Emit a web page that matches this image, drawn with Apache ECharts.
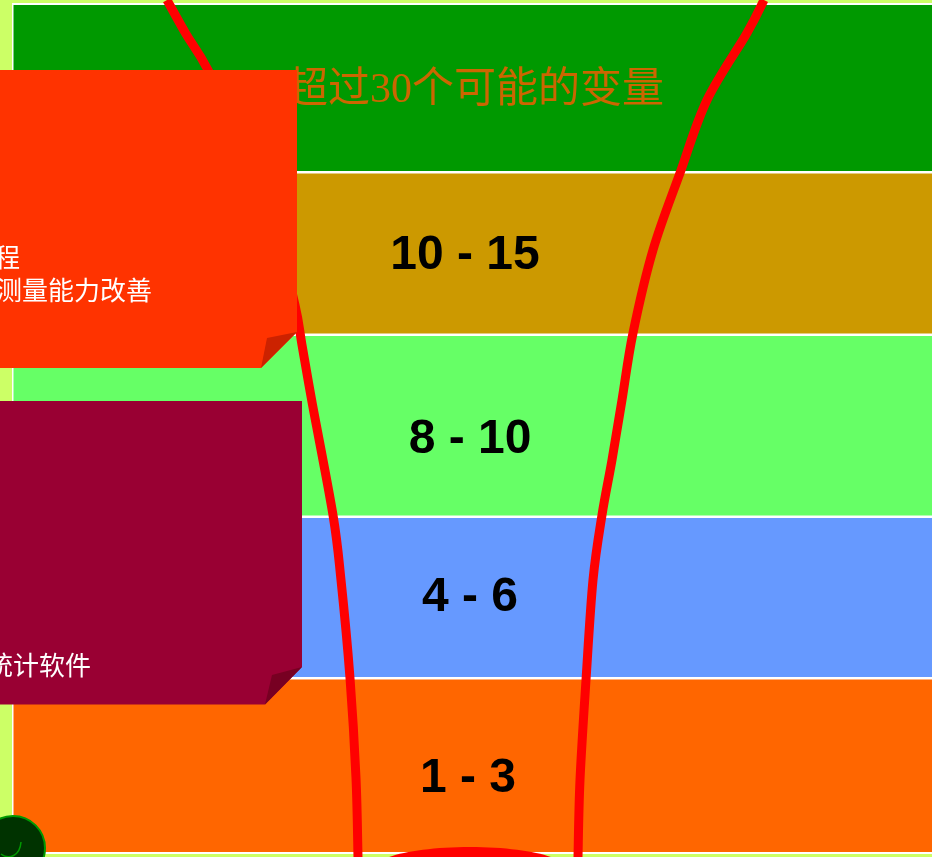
<!DOCTYPE html>
<html>
<head>
<meta charset="utf-8">
<script src="https://cdn.jsdelivr.net/npm/echarts@6/dist/echarts.min.js"></script>
<style>
    html, body { margin: 0; padding: 0; background: #CCFF66; }
    #chart { width: 932px; height: 857px; }
</style>
</head>
<body>
<div id="chart"></div>
<script>
    // band layout (page pixels, y grows downward)
    var bandLabels = ['超过30个可能的变量', '10 - 15', '8 - 10', '4 - 6', '1 - 3'];
    var bandTop = [5, 173.5, 336, 518, 679.5];
    var bandBottom = [171, 333.5, 515.5, 677, 852];
    var labelX = [475, 465, 470, 470, 468];
    var labelY = [91, 256, 440, 598, 779];

    // the two red funnel curves
    var leftCurve = [[167, 0], [186, 34], [208, 70], [245, 150], [275, 230], [295, 305], [302, 345],
        [312, 402], [333, 515], [341, 580], [350, 678], [356, 778], [358, 857]];
    var rightCurve = [[764, 0], [747, 33], [707, 100], [680, 173], [653, 250], [633, 333],
        [622, 400], [612, 460], [602, 515], [593, 580], [586, 680], [580, 780], [578, 857]];
    var curves = [leftCurve, rightCurve];

    // callout notes on the left
    var noteShapes = [
        [[-5, 70], [297, 70], [297, 332], [261, 368], [-5, 368]],
        [[-5, 401], [302, 401], [302, 667], [265, 704.5], [-5, 704.5]]
    ];
    var noteFolds = [
        [[297, 332], [267, 338], [261, 368]],
        [[302, 667], [272, 675], [265, 704.5]]
    ];
    var noteLines = ['程', '测量能力改善', '统计软件'];
    var noteLineX = [20, 152, 91];
    var noteLineY = [257, 290, 665];

    var bandColors = ['#009900', '#CC9900', '#66FF66', '#6699FF', '#FF6600'];
    var noteColors = ['#FF3300', '#990033'];
    var foldColors = ['#CC2200', '#770022'];

    var chart = echarts.init(document.getElementById('chart'))

    function poly(pts, api) {
        return pts.map(function (p) { return api.coord(p) })
    }

    // catmull-rom through the pixel points, as cubic bezier path data
    function splinePath(pts) {
        var d = 'M' + pts[0][0] + ',' + pts[0][1]
        for (var i = 0; i < pts.length - 1; i++) {
            var p0 = pts[Math.max(i - 1, 0)], p1 = pts[i], p2 = pts[i + 1], p3 = pts[Math.min(i + 2, pts.length - 1)]
            var c1x = p1[0] + (p2[0] - p0[0]) / 6, c1y = p1[1] + (p2[1] - p0[1]) / 6
            var c2x = p2[0] - (p3[0] - p1[0]) / 6, c2y = p2[1] - (p3[1] - p1[1]) / 6
            d += 'C' + c1x + ',' + c1y + ',' + c2x + ',' + c2y + ',' + p2[0] + ',' + p2[1]
        }
        return d
    }

    chart.setOption({
        animation: false,
        grid: {left: 0, right: 0, top: 0, bottom: 0},
        xAxis: {type: 'value', min: 0, max: 932, show: false},
        yAxis: {type: 'value', min: 0, max: 857, inverse: true, show: false},
        series: [
            { // white frame behind the bands
                type: 'custom',
                silent: true,
                z: 1,
                data: [[12, 3, 940, 854]],
                renderItem: function (params, api) {
                    var a = api.coord([api.value(0), api.value(1)])
                    var b = api.coord([api.value(2), api.value(3)])
                    return {type: 'rect', shape: {x: a[0], y: a[1], width: b[0] - a[0], height: b[1] - a[1]}, style: {fill: '#ffffff'}}
                }
            },
            {
                type: 'custom',
                silent: true,
                z: 2,
                data: bandTop.map(function (t, i) { return [13.5, t, 940, bandBottom[i]] }),
                renderItem: function (params, api) {
                    var a = api.coord([api.value(0), api.value(1)])
                    var b = api.coord([api.value(2), api.value(3)])
                    return {
                        type: 'rect',
                        shape: {x: a[0], y: a[1], width: b[0] - a[0], height: b[1] - a[1]},
                        style: {fill: bandColors[params.dataIndex]}
                    }
                }
            },
            {
                type: 'custom',
                silent: true,
                z: 3,
                data: labelX.map(function (x, i) { return [x, labelY[i]] }),
                renderItem: function (params, api) {
                    var p = api.coord([api.value(0), api.value(1)])
                    var first = params.dataIndex === 0
                    return {
                        type: 'text',
                        x: p[0], y: p[1],
                        style: {
                            text: bandLabels[params.dataIndex],
                            align: 'center', verticalAlign: 'middle',
                            fill: first ? '#CC6600' : '#000000',
                            font: first ? 'normal 42px "Liberation Serif", "Noto Sans CJK SC", serif'
                                : 'bold 48px "Liberation Sans", Arial, sans-serif'
                        }
                    }
                }
            },
            { // red funnel sides
                type: 'custom',
                silent: true,
                clip: false,
                z: 4,
                data: curves.map(function (c, i) { return [i] }),
                renderItem: function (params, api) {
                    var pts = poly(curves[params.dataIndex], api)
                    return {
                        type: 'path',
                        shape: {pathData: splinePath(pts)},
                        style: {fill: null, stroke: '#FF0000', lineWidth: 9}
                    }
                }
            },
            { // red ellipse at the bottom of the funnel
                type: 'custom',
                silent: true,
                clip: false,
                z: 5,
                data: [[470, 868, 95, 21]],
                renderItem: function (params, api) {
                    var c = api.coord([api.value(0), api.value(1)])
                    var s = api.size([api.value(2), api.value(3)])
                    return {type: 'ellipse', shape: {cx: c[0], cy: c[1], rx: s[0], ry: s[1]}, style: {fill: '#FF0000'}}
                }
            },
            {
                type: 'custom',
                silent: true,
                clip: false,
                z: 6,
                data: noteShapes.map(function (s, i) { return [i] }),
                renderItem: function (params, api) {
                    var i = params.dataIndex
                    return {
                        type: 'group',
                        children: [
                            {type: 'polygon', shape: {points: poly(noteShapes[i], api)}, style: {fill: noteColors[i]}},
                            {type: 'polygon', shape: {points: poly(noteFolds[i], api)}, style: {fill: foldColors[i]}}
                        ]
                    }
                }
            },
            {
                type: 'custom',
                silent: true,
                clip: false,
                z: 7,
                data: noteLineX.map(function (x, i) { return [x, noteLineY[i]] }),
                renderItem: function (params, api) {
                    var p = api.coord([api.value(0), api.value(1)])
                    return {
                        type: 'text',
                        x: p[0], y: p[1],
                        style: {
                            text: noteLines[params.dataIndex],
                            align: 'right', verticalAlign: 'middle',
                            fill: '#ffffff',
                            font: '26px "Noto Sans CJK SC", sans-serif'
                        }
                    }
                }
            },
            { // dark green button, bottom left
                type: 'custom',
                silent: true,
                clip: false,
                z: 8,
                data: [[13, 848, 32]],
                renderItem: function (params, api) {
                    var c = api.coord([api.value(0), api.value(1)])
                    var r = api.size([api.value(2), 0])[0]
                    return {
                        type: 'group',
                        children: [
                            {type: 'circle', shape: {cx: c[0], cy: c[1], r: r}, style: {fill: '#003300', stroke: '#009900', lineWidth: 2}},
                            {type: 'bezierCurve', shape: {x1: c[0] - 12, y1: c[1] + 6, cpx1: c[0] - 4, cpy1: c[1] + 12, cpx2: c[0] + 7, cpy2: c[1] + 8, x2: c[0] + 8, y2: c[1] - 6},
                                style: {fill: null, stroke: '#009900', lineWidth: 1.5}}
                        ]
                    }
                }
            }
        ]
    })
</script>
</body>
</html>
